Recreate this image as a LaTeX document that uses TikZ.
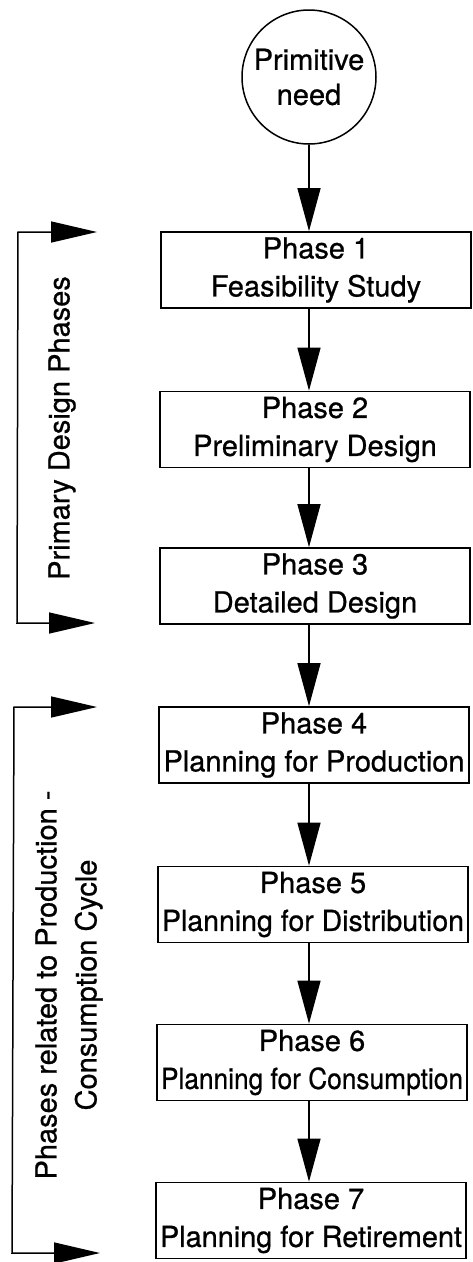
\documentclass[tikz,border=0pt]{standalone}
\usepackage{fontspec}
\usepackage{graphicx}
\setmainfont{TeX Gyre Heros}[FakeBold=0.7]
\usetikzlibrary{arrows.meta}
% narrow a line only when it would not fit inside a phase box
\newcommand\fitline[1]{\resizebox{\ifdim\width>302pt 302pt\else\width\fi}{\height}{#1}}
\begin{document}
\begin{tikzpicture}[x=1pt,y=-1pt,
  phasebox/.style={draw, line width=1.7pt, minimum width=310pt, minimum height=76pt,
    inner sep=0pt, align=center, font=\fontsize{29}{38}\selectfont},
  needcircle/.style={draw, circle, line width=1.5pt, minimum size=134pt, inner sep=0pt,
    align=center, font=\fontsize{29}{35}\selectfont},
  sidelabel/.style={rotate=90, align=center, inner sep=0pt, font=\fontsize{29}{40}\selectfont},
  flow/.style={line width=1.4pt, -{Triangle[length=43pt,width=23pt]}},
  bracket/.style={line width=1.5pt, {Triangle[length=46pt,width=21pt]}-{Triangle[length=46pt,width=21pt]}}]
  \fill[white] (0,0) rectangle (472,1262);
  \useasboundingbox (0,0) rectangle (472,1262);

  % main sequence of phases
  \node[needcircle] (need) at (309,77) {Primitive\\need};
  \node[phasebox] (b1) at (316,270) {Phase 1\\Feasibility Study};
  \node[phasebox] (b2) at (315,429.5) {Phase 2\\Preliminary Design};
  \node[phasebox] (b3) at (315,586) {Phase 3\\Detailed Design};
  \node[phasebox] (b4) at (314,745) {Phase 4\\\fitline{Planning for Production}};
  \node[phasebox] (b5) at (313,904.5) {Phase 5\\\fitline{Planning for Distribution}};
  \node[phasebox] (b6) at (312,1062.5) {Phase 6\\\fitline{Planning for Consumption}};
  \node[phasebox] (b7) at (311,1220.5) {Phase 7\\\fitline{Planning for Retirement}};

  \draw[flow] (need.south) -- (need.south |- b1.north);
  \draw[flow] (b1.south -| need) -- (b2.north -| need);
  \draw[flow] (b2.south -| need) -- (b3.north -| need);
  \draw[flow] (b3.south -| need) -- (b4.north -| need);
  \draw[flow] (b4.south -| need) -- (b5.north -| need);
  \draw[flow] (b5.south -| need) -- (b6.north -| need);
  \draw[flow] (b6.south -| need) -- (b7.north -| need);

  % grouping brackets on the left
  \node[sidelabel] (g1) at (62,428) {Primary Design Phases};
  \node[sidelabel] (g2) at (69,985) {Phases related to Production -\\Consumption Cycle};

  \coordinate (g1a) at (97,232);
  \coordinate (g1b) at (18,232);
  \coordinate (g1c) at (17,623);
  \coordinate (g1d) at (95,623);
  \draw[bracket] (g1a) -- (g1b) -- (g1c) -- (g1d);

  \coordinate (g2a) at (97,707);
  \coordinate (g2b) at (14,707);
  \coordinate (g2c) at (12,1253);
  \coordinate (g2d) at (100,1253);
  \draw[bracket] (g2a) -- (g2b) -- (g2c) -- (g2d);
\end{tikzpicture}
\end{document}
